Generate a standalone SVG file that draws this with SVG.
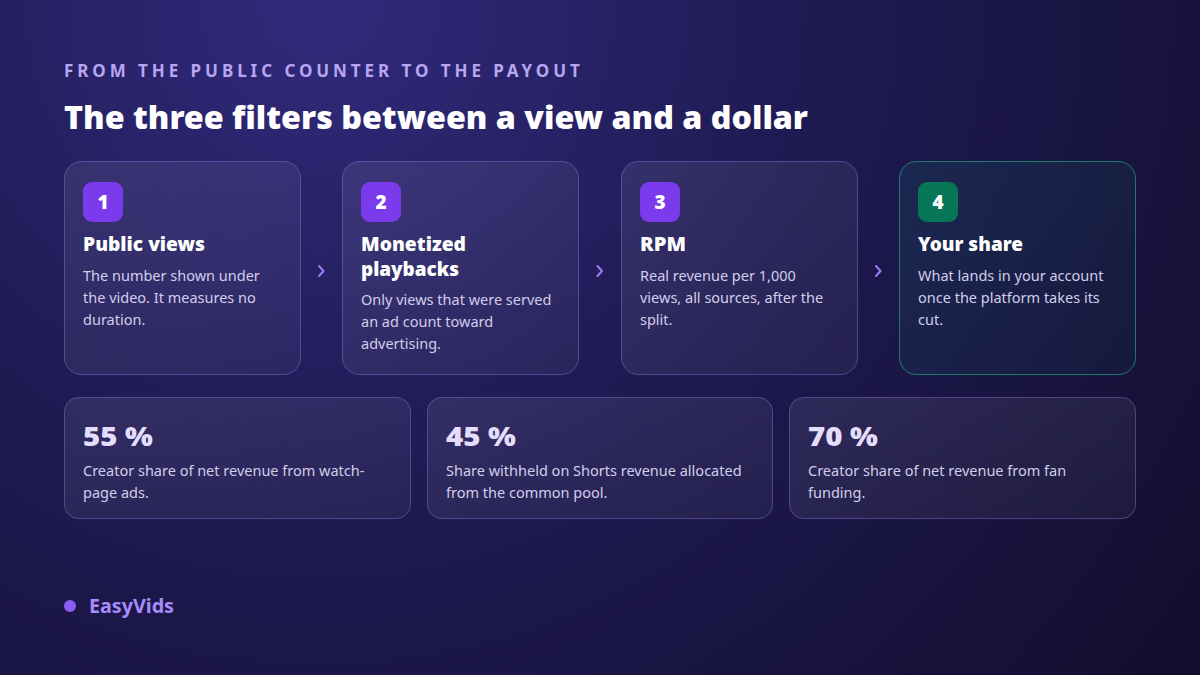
<svg xmlns="http://www.w3.org/2000/svg" width="1200" height="675" viewBox="0 0 1200 675">
<defs>
<radialGradient id="bg" cx="320" cy="0" r="1100" gradientUnits="userSpaceOnUse">
<stop offset="0" stop-color="#312a7c"/>
<stop offset="0.45" stop-color="#1f1a52"/>
<stop offset="1" stop-color="#120e2e"/>
</radialGradient>
<linearGradient id="cardg" x1="0" y1="0" x2="1" y2="1">
<stop offset="0" stop-color="#ffffff" stop-opacity="0.08"/>
<stop offset="1" stop-color="#ffffff" stop-opacity="0.04"/>
</linearGradient>
<linearGradient id="greeng" x1="0" y1="0" x2="1" y2="1">
<stop offset="0" stop-color="#10b981" stop-opacity="0.10"/>
<stop offset="1" stop-color="#10b981" stop-opacity="0.04"/>
</linearGradient>
<style>
.card{fill:url(#cardg);stroke:#8b7bd8;stroke-opacity:0.45;stroke-width:1}
.cardg{fill:url(#greeng);stroke:#22a37f;stroke-opacity:0.7;stroke-width:1}
.badge{fill:#7c3aed}
.badgeg{fill:#087556}
.num{font-family:"Noto Sans",sans-serif;font-weight:900;font-size:19px;fill:#ffffff;text-anchor:middle}
.ct{font-family:"Noto Sans",sans-serif;font-weight:900;font-size:18.5px;fill:#ffffff}
.cb{font-family:"Noto Sans",sans-serif;font-size:14.5px;fill:#d2cdea}
.big{font-family:"Noto Sans",sans-serif;font-weight:900;font-size:27px;fill:#e4defc}
.chev{fill:none;stroke:#9d7bf5;stroke-width:2;stroke-linecap:round;stroke-linejoin:round}
</style>
</defs>
<rect width="1200" height="675" fill="url(#bg)"/>
<text x="64" y="77" font-family="Noto Sans, sans-serif" font-weight="700" font-size="17" letter-spacing="2.2" fill="#b8a5f2" textLength="518" lengthAdjust="spacing">FROM THE PUBLIC COUNTER TO THE PAYOUT</text>
<text x="64" y="129" font-family="Noto Sans, sans-serif" font-weight="900" font-size="31" fill="#ffffff" textLength="744" lengthAdjust="spacingAndGlyphs">The three filters between a view and a dollar</text>

<g id="connectors">
<path class="chev" d="M319 266 L323.5 271 L319 276"/>
<path class="chev" d="M597.5 266 L602 271 L597.5 276"/>
<path class="chev" d="M876 266 L880.5 271 L876 276"/>
</g>

<g id="step1">
<rect class="card" x="64.5" y="161.5" width="236" height="213" rx="17"/>
<rect class="badge" x="83" y="182" width="40" height="40" rx="9"/>
<text class="num" x="103" y="209">1</text>
<text class="ct" x="83" y="251" textLength="122" lengthAdjust="spacingAndGlyphs">Public views</text>
<text class="cb" x="83" y="281">The number shown under</text>
<text class="cb" x="83" y="303">the video. It measures no</text>
<text class="cb" x="83" y="325">duration.</text>
</g>
<g id="step2">
<rect class="card" x="342.5" y="161.5" width="236" height="213" rx="17"/>
<rect class="badge" x="361" y="182" width="40" height="40" rx="9"/>
<text class="num" x="381" y="209">2</text>
<text class="ct" x="361" y="251" textLength="105" lengthAdjust="spacingAndGlyphs">Monetized</text>
<text class="ct" x="361" y="276" textLength="98" lengthAdjust="spacingAndGlyphs">playbacks</text>
<text class="cb" x="361" y="305">Only views that were served</text>
<text class="cb" x="361" y="327">an ad count toward</text>
<text class="cb" x="361" y="349">advertising.</text>
</g>
<g id="step3">
<rect class="card" x="621.5" y="161.5" width="236" height="213" rx="17"/>
<rect class="badge" x="640" y="182" width="40" height="40" rx="9"/>
<text class="num" x="660" y="209">3</text>
<text class="ct" x="640" y="251" textLength="46" lengthAdjust="spacingAndGlyphs">RPM</text>
<text class="cb" x="640" y="281">Real revenue per 1,000</text>
<text class="cb" x="640" y="303">views, all sources, after the</text>
<text class="cb" x="640" y="325">split.</text>
</g>
<g id="step4">
<rect class="cardg" x="899.5" y="161.5" width="236" height="213" rx="17"/>
<rect class="badgeg" x="918" y="182" width="40" height="40" rx="9"/>
<text class="num" x="938" y="209">4</text>
<text class="ct" x="918" y="251" textLength="105" lengthAdjust="spacingAndGlyphs">Your share</text>
<text class="cb" x="918" y="281">What lands in your account</text>
<text class="cb" x="918" y="303">once the platform takes its</text>
<text class="cb" x="918" y="325">cut.</text>
</g>

<g id="stat1">
<rect class="card" x="64.5" y="397.5" width="346" height="121" rx="14"/>
<text class="big" x="83" y="446" textLength="70" lengthAdjust="spacingAndGlyphs">55 %</text>
<text class="cb" x="83" y="476">Creator share of net revenue from watch-</text>
<text class="cb" x="83" y="498">page ads.</text>
</g>
<g id="stat2">
<rect class="card" x="427.5" y="397.5" width="345" height="121" rx="14"/>
<text class="big" x="446" y="446" textLength="70" lengthAdjust="spacingAndGlyphs">45 %</text>
<text class="cb" x="446" y="476">Share withheld on Shorts revenue allocated</text>
<text class="cb" x="446" y="498">from the common pool.</text>
</g>
<g id="stat3">
<rect class="card" x="789.5" y="397.5" width="346" height="121" rx="14"/>
<text class="big" x="808" y="446" textLength="70" lengthAdjust="spacingAndGlyphs">70 %</text>
<text class="cb" x="808" y="476">Creator share of net revenue from fan</text>
<text class="cb" x="808" y="498">funding.</text>
</g>

<g id="brand">
<circle cx="70" cy="606" r="6" fill="#8b5cf6"/>
<text x="89" y="613" font-family="Noto Sans, sans-serif" font-weight="700" font-size="19" fill="#a78bfa" textLength="85" lengthAdjust="spacingAndGlyphs">EasyVids</text>
</g>
</svg>
